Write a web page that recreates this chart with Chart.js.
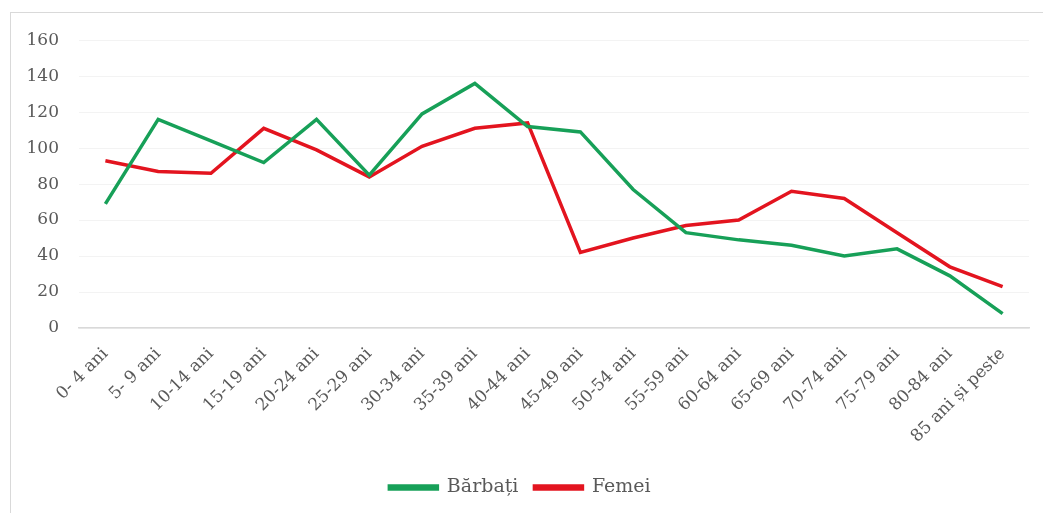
<!DOCTYPE html>
<html>
<head>
<meta charset="utf-8">
<script src="https://cdn.jsdelivr.net/npm/chart.js@4"></script>
<style>
  html, body { margin: 0; padding: 0; background: #fff; overflow: hidden; }
  #frame {
    position: absolute; left: 10px; top: 12px;
    width: 1040px; height: 505px;
    border: 1px solid #d9d9d9; box-sizing: border-box;
  }
  #wrap {
    position: absolute; left: 11px; top: 10px;
    width: 1038px; height: 503px;
  }
</style>
</head>
<body>
<div id="frame"></div>
<div id="wrap"><canvas id="myChart"></canvas></div>
<script>
// data
const categories = ['0- 4 ani', '5- 9 ani', '10-14 ani', '15-19 ani', '20-24 ani', '25-29 ani',
    '30-34 ani', '35-39 ani', '40-44 ani', '45-49 ani', '50-54 ani', '55-59 ani',
    '60-64 ani', '65-69 ani', '70-74 ani', '75-79 ani', '80-84 ani', '85 ani și peste'];
const barbati = [69, 116, 104, 92, 116, 85, 119, 136, 112, 109, 77, 53, 49, 46, 40, 44, 29, 8];
const femei = [93, 87, 86, 111, 99, 84, 101, 111, 114, 42, 50, 57, 60, 76, 72, 53, 34, 23];
const yTicks = [0, 20, 40, 60, 80, 100, 120, 140, 160];

const serif = "'DejaVu Serif', 'Liberation Serif', serif";

var ctx = document.getElementById('myChart');
new Chart(ctx, {
    type: 'line',
    data: {
        labels: categories,
        datasets: [{
            label: 'Bărbați',
            data: barbati,
            borderColor: '#17a058',
            backgroundColor: '#17a058',
            borderWidth: 3.5,
            pointRadius: 0,
            tension: 0
        }, {
            label: 'Femei',
            data: femei,
            borderColor: '#e3141f',
            backgroundColor: '#e3141f',
            borderWidth: 3.5,
            pointRadius: 0,
            tension: 0
        }]
    },
    options: {
        responsive: true,
        maintainAspectRatio: false,
        animation: false,
        layout: { padding: { left: 0, right: 20, top: 15, bottom: 6 } },
        plugins: {
            legend: {
                position: 'bottom',
                labels: {
                    font: { family: serif, size: 19 },
                    color: '#595959',
                    boxWidth: 48,
                    boxHeight: 3,
                    padding: 16
                }
            },
            tooltip: { enabled: false }
        },
        scales: {
            x: {
                offset: true,
                grid: { display: false },
                border: { color: '#d9d9d9', width: 1.5 },
                afterFit: (axis) => { axis.height = 134; },
                ticks: {
                    font: { family: serif, size: 17 },
                    color: '#595959',
                    maxRotation: 45,
                    minRotation: 45,
                    autoSkip: false,
                    padding: 8
                }
            },
            y: {
                min: 0,
                max: 160,
                afterBuildTicks: (axis) => { axis.ticks = yTicks.map(v => ({ value: v })); },
                afterFit: (axis) => { axis.width = 68; },
                grid: { color: '#f3f3f3', drawTicks: false },
                border: { display: false },
                ticks: {
                    font: { family: serif, size: 17 },
                    color: '#595959',
                    padding: 20
                }
            }
        }
    }
})
</script>
</body>
</html>
